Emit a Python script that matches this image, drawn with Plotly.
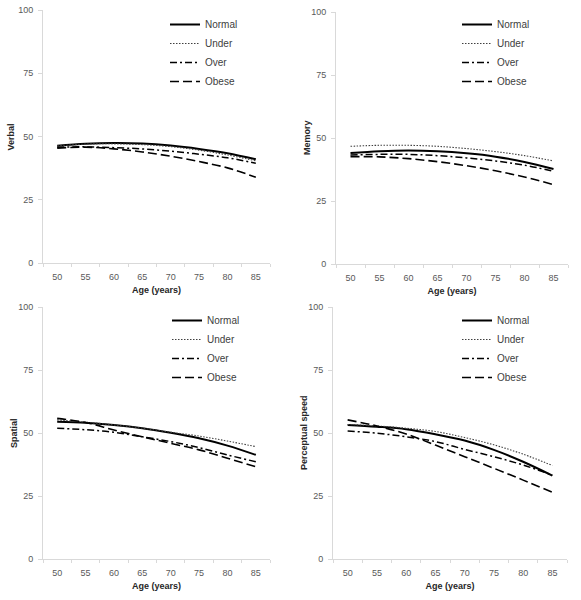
import plotly.graph_objects as go

ages = ["50", "55", "60", "65", "70", "75", "80", "85"]
groups = ["Normal", "Under", "Over", "Obese"]
y_ticks = [0, 25, 50, 75, 100]

verbal_normal = [46.3, 47.1, 47.4, 47.2, 46.4, 45.1, 43.4, 41.0]
verbal_under = [46.3, 47.0, 47.1, 46.8, 46.0, 44.6, 42.7, 40.4]
verbal_over = [45.8, 45.9, 45.6, 45.1, 44.2, 43.0, 41.6, 39.4]
verbal_obese = [45.4, 45.8, 45.1, 43.9, 42.2, 40.1, 37.6, 33.9]

memory_normal = [44.0, 44.7, 45.0, 44.7, 43.9, 42.6, 40.5, 37.7]
memory_under = [46.7, 47.1, 47.1, 46.7, 45.8, 44.6, 43.0, 40.9]
memory_over = [43.3, 43.5, 43.5, 43.0, 42.1, 40.9, 39.2, 36.8]
memory_obese = [42.6, 42.5, 41.8, 40.6, 39.0, 37.0, 34.5, 31.5]

spatial_normal = [54.5, 54.1, 53.2, 51.9, 50.1, 47.9, 45.0, 41.3]
spatial_under = [55.2, 54.3, 53.2, 51.9, 50.3, 48.8, 46.8, 44.6]
spatial_over = [51.9, 51.3, 50.3, 48.5, 46.6, 44.2, 41.3, 38.6]
spatial_obese = [55.8, 54.2, 51.2, 48.5, 45.9, 43.3, 40.0, 36.6]

speed_normal = [53.2, 52.5, 51.5, 49.5, 47.0, 43.3, 38.6, 33.1]
speed_under = [53.4, 52.8, 51.9, 50.6, 48.2, 45.3, 41.6, 37.1]
speed_over = [50.8, 49.9, 48.5, 46.6, 43.5, 40.6, 37.3, 33.3]
speed_obese = [55.2, 52.8, 49.6, 45.2, 40.6, 36.0, 31.3, 26.5]

panels = [
    ("Verbal", [verbal_normal, verbal_under, verbal_over, verbal_obese]),
    ("Memory", [memory_normal, memory_under, memory_over, memory_obese]),
    ("Spatial", [spatial_normal, spatial_under, spatial_over, spatial_obese]),
    ("Perceptual speed", [speed_normal, speed_under, speed_over, speed_obese]),
]

W, H = 581, 600
# pixel boxes: (left, right, top, bottom)
boxes = [
    (43, 270, 10, 263),
    (336, 568, 12, 264),
    (43, 270, 307, 559),
    (333, 567, 307, 559),
]
legend_pos = [(165, 10), (457, 10), (167, 306), (457, 306)]
ytitle_x = [10, 307, 14, 304]

styles = {
    "Normal": dict(color="#000000", width=2.0, dash="solid"),
    "Under": dict(color="#404040", width=1.1, dash="1.5px,1.5px"),
    "Over": dict(color="#000000", width=1.5, dash="7px,3px,2px,3px"),
    "Obese": dict(color="#000000", width=1.6, dash="9px,4px"),
}

FONT = "Liberation Sans, Arial, sans-serif"
fig = go.Figure()
annotations = []

for i, (name, series) in enumerate(panels):
    sfx = "" if i == 0 else str(i + 1)
    leg = "legend" if i == 0 else f"legend{i + 1}"
    for g, vals in zip(groups, series):
        fig.add_trace(go.Scatter(
            x=ages, y=vals, name=g, mode="lines",
            line=dict(shape="spline", smoothing=1.0, **styles[g]),
            xaxis="x" + sfx, yaxis="y" + sfx, legend=leg,
            hoverinfo="skip",
        ))
    l, r, t, b = boxes[i]
    fig.layout["xaxis" + sfx] = dict(
        domain=[l / W, r / W], anchor="y" + sfx, type="category",
        range=[-0.5, len(ages) - 0.5], automargin=False,
        tickson="boundaries", ticks="outside", ticklen=3, tickcolor="#d9d9d9",
        showline=True, linecolor="#d9d9d9", linewidth=1, showgrid=False,
        zeroline=False, tickfont=dict(family=FONT, size=9, color="#595959"),
        ticklabelstandoff=5,
        title=dict(text="<b>Age (years)</b>", font=dict(family=FONT, size=9, color="#262626"), standoff=5),
        fixedrange=True,
    )
    fig.layout["yaxis" + sfx] = dict(
        domain=[1 - b / H, 1 - t / H], anchor="x" + sfx, range=[0, 100],
        tickvals=y_ticks, ticks="outside", ticklen=4, tickcolor="#d9d9d9",
        showline=True, linecolor="#d9d9d9", linewidth=1, showgrid=False,
        zeroline=False, tickfont=dict(family=FONT, size=9, color="#595959"),
        ticklabelstandoff=3, fixedrange=True, automargin=False,
    )
    annotations.append(dict(
        text=f"<b>{name}</b>", xref="paper", yref="paper",
        x=ytitle_x[i] / W, y=1 - (t + b) / 2 / H, textangle=-90,
        showarrow=False, xanchor="center", yanchor="middle",
        font=dict(family=FONT, size=9, color="#262626"),
    ))
    lx, ly = legend_pos[i]
    fig.layout[leg] = dict(
        x=lx / W, y=1 - ly / H, xanchor="left", yanchor="top",
        bgcolor="rgba(0,0,0,0)", font=dict(family=FONT, size=10, color="#404040"),
        tracegroupgap=0, itemwidth=30,
    )

fig.update_layout(
    width=W, height=H, margin=dict(l=0, r=0, t=0, b=0, autoexpand=False),
    paper_bgcolor="white", plot_bgcolor="white",
    annotations=annotations, showlegend=True,
)

fig.write_html(
    "out.html",
    config={"displayModeBar": False, "staticPlot": True},
    post_script="document.body.style.margin='0';",
)
